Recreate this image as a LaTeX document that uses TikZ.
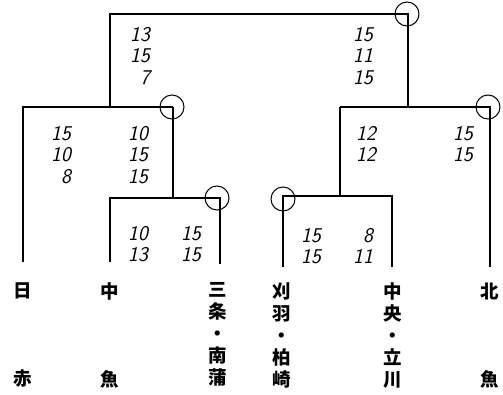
\documentclass[tikz,border=0pt]{standalone}
\usepackage{fontspec}
\newfontfamily\jpfont{Noto Sans CJK JP}
\usetikzlibrary{positioning}

\begin{document}
\begin{tikzpicture}
	[x=1pt, y=-1pt, line width=1.3pt,
	score/.style={font=\fontsize{21}{21.5}\selectfont\sffamily\itshape, align=right, inner sep=0pt},
	team/.style={font=\fontsize{18.5}{22}\selectfont\jpfont\bfseries, align=center, inner sep=0pt, anchor=north},
	win/.style={circle, draw, line width=1pt, minimum size=24pt, inner sep=0pt}]

	\useasboundingbox (0,0) rectangle (503,394);

	% team lines
	\coordinate (nt) at (23,107);  \coordinate (nb) at (23,262);
	\coordinate (ct) at (110,198); \coordinate (cb) at (110,262);
	\coordinate (st) at (220,198); \coordinate (sb) at (220,264);
	\coordinate (kt) at (283,196); \coordinate (kb) at (283,267);
	\coordinate (ut) at (392,196); \coordinate (ub) at (392,267);
	\coordinate (ht) at (490,107); \coordinate (hb) at (490,267);

	% risers
	\coordinate (l1) at (173,198); \coordinate (l1t) at (173,107);
	\coordinate (l2) at (110,107); \coordinate (l2t) at (110,14);
	\coordinate (r1) at (340,196); \coordinate (r1t) at (340,107);
	\coordinate (r2) at (408,107); \coordinate (r2t) at (408,14);

	\draw (cb) -- (ct) -- (st) -- (sb);
	\draw (kb) -- (kt) -- (ut) -- (ub);
	\draw (l1) -- (l1t);
	\draw (r1) -- (r1t);
	\draw (nb) -- (nt) -- (l1t);
	\draw (r1t) -- (ht) -- (hb);
	\draw (l2) -- (l2t) -- (r2t) -- (r2);

	% winners
	\node[win] (w1) at (217,198) {};
	\node[win] (w2) at (283,199) {};
	\node[win] (w3) at (172,107) {};
	\node[win] (w4) at (488,107) {};
	\node[win] (w5) at (407,14) {};

	% scores
	\node[score] (f1) at (140,56) {13\\15\\7};
	\node[score] (f2) at (363,56) {15\\11\\15};
	\node[score] (s1) at (61,155) {15\\10\\8};
	\node[score] (s2) at (138,155) {10\\15\\15};
	\node[score] (s3) at (366,144) {12\\12};
	\node[score] (s4) at (463,144) {15\\15};
	\node[score] (q1) at (138,244) {10\\13};
	\node[score] (q2) at (191,244) {15\\15};
	\node[score] (q3) at (311,246) {15\\15};
	\node[score] (q4) at (363,246) {8\\11};

	% teams
	\node[team] (nisseki) at (23,282) {日\\\mbox{}\\\mbox{}\\\mbox{}\\赤};
	\node[team] (chugyo) at (110,282) {中\\\mbox{}\\\mbox{}\\\mbox{}\\魚};
	\node[team] (sanjo) at (218,282) {三\\条\\・\\南\\蒲};
	\node[team] (kariwa) at (282,282) {刈\\羽\\・\\柏\\崎};
	\node[team] (chuo) at (393,282) {中\\央\\・\\立\\川};
	\node[team] (hokugyo) at (490,282) {北\\\mbox{}\\\mbox{}\\\mbox{}\\魚};
\end{tikzpicture}
\end{document}
